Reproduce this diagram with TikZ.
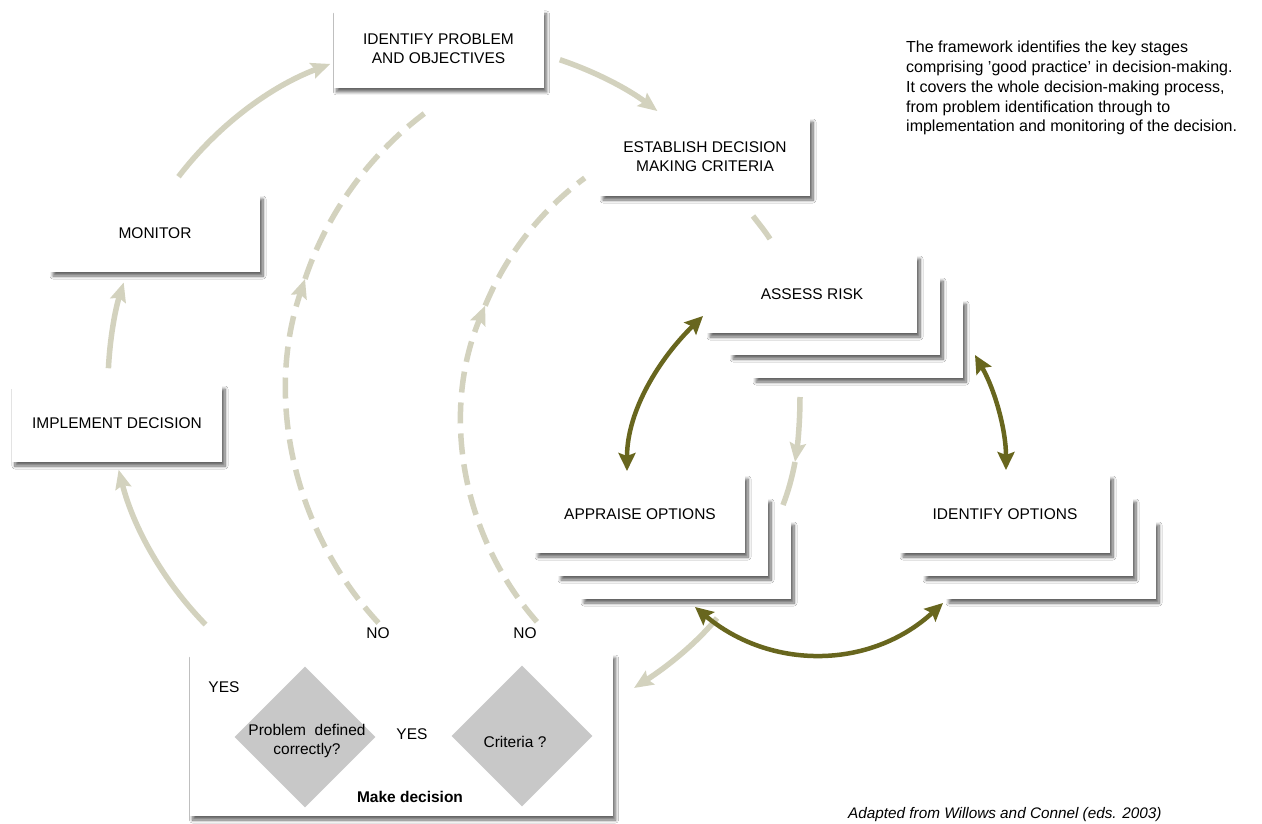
\documentclass[tikz,border=0pt]{standalone}
\usepackage{fontspec}
\setmainfont{Liberation Sans}
\usetikzlibrary{arrows.meta,shapes.geometric,shadows.blur,calc}
\definecolor{lightline}{RGB}{211,210,190}
\definecolor{olivedark}{RGB}{104,102,30}
\definecolor{diamgray}{RGB}{200,200,200}
\tikzset{
  softshadow/.style={blur shadow={shadow xshift=3pt, shadow yshift=-4pt, shadow blur radius=3pt, shadow blur steps=10, shadow opacity=60}},
  stagebox/.style={fill=white, minimum width=210pt, minimum height=78pt, align=center,
    font=\fontsize{15.5}{19}\selectfont, inner sep=0pt, softshadow},
  decbox/.style={fill=white, minimum width=423pt, minimum height=162pt, inner sep=0pt, softshadow},
  qdiamond/.style={diamond, aspect=1, fill=diamgray, minimum size=141pt, inner sep=0pt},
  qtext/.style={align=center, inner sep=0pt, font=\fontsize{15.5}{19}\selectfont},
  lbl/.style={font=\fontsize{15.5}{18}\selectfont, inner sep=0pt},
  lightarrow/.style={draw=lightline, line width=5.5pt, -{Stealth[length=19pt,width=16pt,inset=3pt]}},
  lightline/.style={draw=lightline, line width=5.5pt},
  dashline/.style={draw=lightline, line width=5.5pt, dash pattern=on 21pt off 10pt},
  dasharrow/.style={dashline, -{Stealth[length=19pt,width=16pt,inset=3pt]}},
  olivearrow/.style={draw=olivedark, line width=4.5pt, {Stealth[length=18pt,width=17pt,inset=3pt]}-{Stealth[length=18pt,width=17pt,inset=3pt]}}
}
\begin{document}
\begin{tikzpicture}[x=1pt,y=1pt,yscale=-1]
\fill[white] (0,0) rectangle (1262,824);
\useasboundingbox (0,0) rectangle (1262,824);

% stage boxes
\node[stagebox] (ip) at (438.5,49) {IDENTIFY PROBLEM\\AND OBJECTIVES};
\node[stagebox] (edc) at (705,157) {ESTABLISH DECISION\\MAKING CRITERIA};
\node[stagebox, minimum height=77pt] (mon) at (155,233.5) {MONITOR};
\node[stagebox, minimum height=77pt] (impl) at (117,423.5) {IMPLEMENT DECISION};

\node[stagebox] (risk3) at (858,339) {};
\node[stagebox] (risk2) at (835,316) {};
\node[stagebox] (risk) at (812,294) {ASSESS RISK};

\node[stagebox] (appr3) at (686,560) {};
\node[stagebox] (appr2) at (663,537) {};
\node[stagebox] (appr) at (640,514) {APPRAISE OPTIONS};

\node[stagebox] (idop3) at (1051,560) {};
\node[stagebox] (idop2) at (1028,537) {};
\node[stagebox] (idop) at (1005,514) {IDENTIFY OPTIONS};

% decision box
\node[decbox] (dec) at (401,735) {};
\node[qdiamond] (q1) at (305,737) {};
\node[qdiamond] (q2) at (522,736) {};
\node[qtext] (q1t) at (307,741) {Problem \ defined\\correctly?};
\node[qtext] (q2t) at (515,742) {Criteria ?};
\node[lbl] (yes1) at (224,687) {YES};
\node[lbl] (yes2) at (412,734) {YES};
\node[lbl, font=\fontsize{15.5}{18}\selectfont\bfseries] (mk) at (410,797) {Make decision};
\node[lbl] (no1) at (378,633) {NO};
\node[lbl] (no2) at (525,633) {NO};

% outer cycle (circle centre 451,385 r 343)
\coordinate (c0) at (451,385);
\coordinate (m2ipS) at ($(c0)+(217.4:343)$);
\coordinate (ip2edcS) at ($(c0)+(288.5:343)$);
\coordinate (dec2imS) at ($(c0)+(135.7:343)$);
\coordinate (im2mS) at ($(c0)+(182.8:343)$);
\draw[lightarrow] (m2ipS) arc[start angle=217.4, end angle=249.4, radius=343];
\draw[lightarrow] (ip2edcS) arc[start angle=288.5, end angle=307, radius=343];
\draw[lightarrow] (dec2imS) arc[start angle=135.7, end angle=165.7, radius=343];
\draw[lightarrow] (im2mS) arc[start angle=182.8, end angle=197.4, radius=343];
\coordinate (e2rS) at (753,216);
\coordinate (e2rE) at (770,239);
\draw[lightline] (e2rS) .. controls (759,224) and (765,231) .. (e2rE);

% inner light arrows
\coordinate (r2aS) at (800,397);
\coordinate (r2aM) at (795,462);
\coordinate (r2aE) at (783,505);
\draw[lightarrow] (r2aS) .. controls (800,420) and (798,442) .. (r2aM);
\draw[lightline] (r2aM) .. controls (792,478) and (788,492) .. (r2aE);
\coordinate (a2dS) at (717,618);
\coordinate (a2dE) at (634,688);
\draw[lightarrow] (a2dS) .. controls (695,645) and (665,668) .. (a2dE);

% dashed NO loops
\coordinate (c1) at (632,389);
\coordinate (n1S) at ($(c1)+(137.3:345)$);
\coordinate (n1M) at ($(c1)+(198.6:345)$);
\draw[dasharrow] (n1S) arc[start angle=137.3, end angle=198.6, radius=345];
\draw[dashline] (n1M) arc[start angle=198.6, end angle=234.6, radius=345];
\coordinate (c2) at (766,422);
\coordinate (n2S) at ($(c2)+(138.9:304)$);
\coordinate (n2M) at ($(c2)+(202.5:304)$);
\draw[dasharrow] (n2S) arc[start angle=138.9, end angle=202.5, radius=304];
\draw[dashline] (n2M) arc[start angle=202.5, end angle=233.4, radius=304];

% olive double arrows
\coordinate (o1a) at (703,316);
\coordinate (o1b) at (627,471);
\draw[olivearrow] (o1a) .. controls (660,358) and (627,410) .. (o1b);
\coordinate (o2a) at (975,355);
\coordinate (o2b) at (1006,470);
\draw[olivearrow] (o2a) .. controls (995,390) and (1006,430) .. (o2b);
\coordinate (o3a) at (695,607);
\coordinate (o3b) at (943,603);
\draw[olivearrow] (o3a) .. controls (770,670) and (870,670) .. (o3b);

% texts
\node[anchor=north west, align=left, inner sep=0pt, font=\fontsize{16}{19.8}\selectfont] (desc) at (906,41)
 {The framework identifies the key stages\\comprising 'good practice' in decision-making.\\It covers the whole decision-making process,\\from problem identification through to\\implementation and monitoring of the decision.};
\node[anchor=west, inner sep=0pt, font=\fontsize{15.3}{18}\selectfont\itshape] (credit) at (848,815) {Adapted from Willows and Connel (eds. 2003)};
\end{tikzpicture}
\end{document}
